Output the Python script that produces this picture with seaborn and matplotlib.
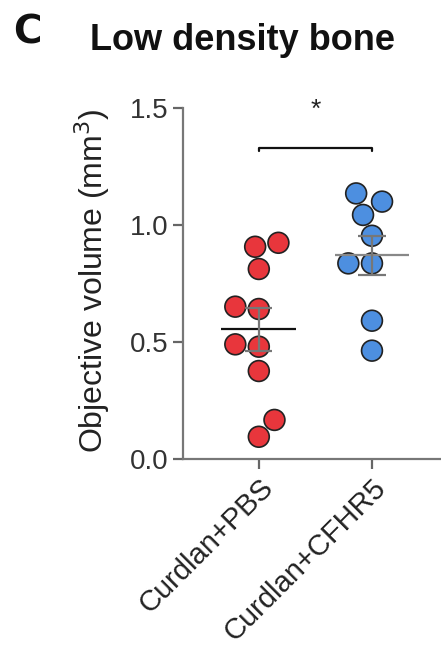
import numpy as np
import pandas as pd
import matplotlib
matplotlib.use("Agg")
import matplotlib.pyplot as plt
import seaborn as sns

groups = ["Curdlan+PBS", "Curdlan+CFHR5"]
pbs_values = [0.907, 0.924, 0.812, 0.641, 0.651, 0.480, 0.490, 0.376, 0.167, 0.095]
cfhr5_values = [1.100, 1.135, 1.043, 0.954, 0.836, 0.836, 0.591, 0.463]
colors = ["#E8363C", "#4D8FE0"]
y_ticks = [0.0, 0.5, 1.0, 1.5]

df = pd.DataFrame({
    "group": [groups[0]] * len(pbs_values) + [groups[1]] * len(cfhr5_values),
    "value": pbs_values + cfhr5_values,
})

sns.set_style("ticks")
plt.rcParams["font.family"] = ["Liberation Sans", "DejaVu Sans"]

fig = plt.figure(figsize=(4.41, 6.56), dpi=100)
ax = fig.add_axes([183 / 441, 1 - 459 / 656, 1 - 183 / 441, (459 - 108) / 656])

sns.swarmplot(data=df, x="group", y="value", hue="group", palette=colors,
              order=groups, size=15, linewidth=1.2, edgecolor="#222222",
              legend=False, ax=ax, zorder=3)

line_cols = ["#111111", "#888888"]
for i, vals in enumerate([pbs_values, cfhr5_values]):
    v = np.array(vals)
    m = v.mean()
    se = v.std(ddof=1) / np.sqrt(len(v))
    ax.hlines(m, i - 0.33, i + 0.33, color=line_cols[i], lw=1.6, zorder=4)
    ax.vlines(i, m - se, m + se, color="#777777", lw=1.6, zorder=4)
    ax.hlines([m - se, m + se], i - 0.12, i + 0.12, color="#777777", lw=1.6, zorder=4)

# significance bracket
yb = 1.33
ax.plot([0, 0, 1, 1], [yb - 0.015, yb, yb, yb - 0.015], color="#111111", lw=1.6, clip_on=False)
ax.text(0.5, 1.49, "*", ha="center", va="center", fontsize=19, color="#222222")

ax.set_xlim(-0.67, 1.61)
ax.set_ylim(0, 1.5)
ax.set_yticks(y_ticks)
ax.set_yticklabels([f"{t:.1f}" for t in y_ticks])
ax.set_xlabel("")
ax.set_ylabel("Objective volume (mm$^3$)", fontsize=23, color="#222222")
ax.yaxis.set_label_coords(-0.275, 0.507)
ax.tick_params(axis="both", colors="#666666", labelcolor="#333333",
               length=7, width=1.6)
ax.tick_params(axis="y", labelsize=20)
ax.tick_params(axis="x", labelsize=21)
plt.setp(ax.get_xticklabels(), rotation=45, ha="right", rotation_mode="anchor",
         color="#222222")
for s in ["top", "right"]:
    ax.spines[s].set_visible(False)
for s in ["left", "bottom"]:
    ax.spines[s].set_color("#777777")
    ax.spines[s].set_linewidth(1.6)

fig.text(243 / 441, 1 - 50 / 656, "Low density bone", ha="center", va="baseline",
         fontsize=26, fontweight="bold", color="#111111")
fig.text(13 / 441, 1 - 43 / 656, "C", ha="left", va="baseline",
         fontsize=28, fontweight="bold", color="#111111",
         family=["DejaVu Sans"])

fig.savefig("out.png", dpi=100)
